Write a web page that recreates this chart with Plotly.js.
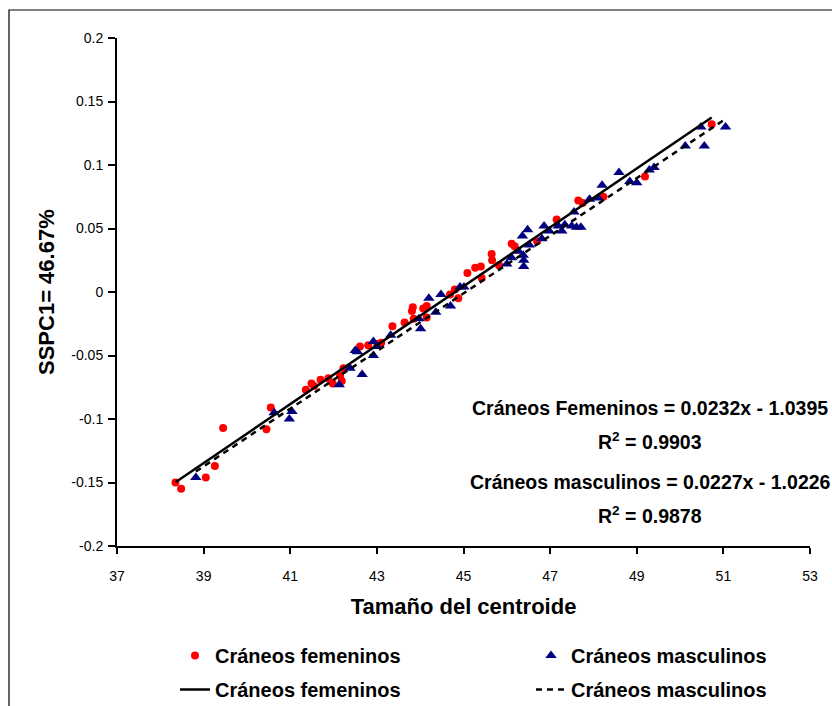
<!DOCTYPE html>
<html>
<head>
<meta charset="utf-8">
<script src="https://cdn.plot.ly/plotly-3.0.1.min.js"></script>
<style>html,body{margin:0;padding:0;background:#fff;}#chart{width:832px;height:706px;}</style>
</head>
<body>
<div id="chart"></div>
<script>
// Data
const femX = [38.35,38.48,39.05,39.26,39.45,40.45,40.55,41.36,41.49,41.55,41.70,41.88,41.98,42.15,42.19,42.23,42.61,42.80,43.01,43.10,43.36,43.64,43.81,43.83,43.85,44.07,44.15,44.15,44.69,44.80,44.88,45.09,45.27,45.40,45.42,45.65,45.66,45.82,46.11,46.18,46.70,47.15,47.65,47.75,48.23,49.19,50.73];
const femY = [-0.150,-0.155,-0.146,-0.137,-0.107,-0.108,-0.091,-0.077,-0.072,-0.074,-0.069,-0.068,-0.072,-0.066,-0.070,-0.060,-0.043,-0.042,-0.041,-0.040,-0.027,-0.024,-0.015,-0.012,-0.021,-0.013,-0.011,-0.020,-0.002,0.002,-0.005,0.015,0.019,0.020,0.011,0.030,0.025,0.021,0.038,0.036,0.040,0.057,0.072,0.070,0.075,0.091,0.132];
const mascX = [38.82,40.63,40.98,41.04,42.13,42.38,42.50,42.55,42.66,42.92,42.92,43.00,43.32,43.97,44.01,44.20,44.36,44.48,44.70,44.92,45.01,46.00,46.11,46.27,46.38,46.39,46.39,46.36,46.48,46.52,46.81,46.86,46.98,47.19,47.27,47.34,47.50,47.61,47.71,47.55,47.91,48.11,48.20,48.59,48.84,49.00,49.29,49.40,50.12,50.56,50.48,51.05];
const mascY = [-0.146,-0.095,-0.100,-0.094,-0.073,-0.060,-0.046,-0.047,-0.065,-0.039,-0.050,-0.043,-0.034,-0.021,-0.029,-0.005,-0.016,-0.002,-0.011,0.004,0.004,0.022,0.027,0.032,0.029,0.025,0.020,0.044,0.049,0.037,0.042,0.052,0.048,0.052,0.048,0.053,0.052,0.051,0.051,0.063,0.073,0.074,0.084,0.094,0.087,0.086,0.096,0.098,0.115,0.115,0.130,0.130];

// Regression coefficients shown on the chart
const femSlope = 0.0232, femIntercept = -1.0395, femR2 = '0.9903';
const mascSlope = 0.0227, mascIntercept = -1.0226, mascR2 = '0.9878';

const xTicks = [37,39,41,43,45,47,49,51,53];
const xTickText = ['37','39','41','43','45','47','49','51','53'];
const yTicks = [-0.2,-0.15,-0.1,-0.05,0,0.05,0.1,0.15,0.2];
const yTickText = ['-0.2','-0.15','-0.1','-0.05','0','0.05','0.1','0.15','0.2'];

const xTitle = 'Tamaño del centroide';
const yTitle = 'SSPC1= 46.67%';
const nameFem = 'Cráneos femeninos';
const nameMasc = 'Cráneos masculinos';

const fxr = [Math.min(...femX), Math.max(...femX)];
const mxr = [Math.min(...mascX), Math.max(...mascX)];

const FONT = 'Liberation Sans, Arial, sans-serif';

const traces = [
  {x: femX, y: femY, type: 'scatter', mode: 'markers', name: nameFem, legend: 'legend', legendgroup: 'g1',
   marker: {color: '#FF0000', size: 8, symbol: 'circle'}},
  {x: mascX, y: mascY, type: 'scatter', mode: 'markers', name: nameMasc, legend: 'legend2', legendgroup: 'g2',
   marker: {color: '#000080', size: 10, symbol: 'triangle-up'}},
  {x: fxr, y: fxr.map(v => femSlope*v + femIntercept), type: 'scatter', mode: 'lines', name: nameFem, legend: 'legend', legendgroup: 'g3',
   line: {color: '#000000', width: 2.5}},
  {x: mxr, y: mxr.map(v => mascSlope*v + mascIntercept), type: 'scatter', mode: 'lines', name: nameMasc, legend: 'legend2', legendgroup: 'g4',
   line: {color: '#000000', width: 2.5, dash: '6px,5px'}}
];

// plot area: x 117..810, y 38..546
const L = 117, R = 810, T = 38, B = 546, W = 832, H = 706;
const px = v => (v - L)/(R - L);
const py = v => (B - v)/(B - T);
const cx = v => v / W;
const cy = v => (H - v) / H;

const annFont = {family: FONT, size: 19.5, color: '#000', weight: 'bold'};
const titleFont = {family: FONT, size: 22, color: '#000', weight: 'bold'};
const legFont = {family: FONT, size: 20, color: '#000', weight: 'bold'};
const legBase = {orientation: 'v', xref: 'container', yref: 'container', xanchor: 'left', yanchor: 'top',
  font: legFont, bgcolor: 'rgba(0,0,0,0)', borderwidth: 0, tracegroupgap: 5, traceorder: 'grouped'};

const layout = {
  width: W, height: H,
  margin: {l: L, r: W - R, t: T, b: H - B, pad: 0, autoexpand: false},
  paper_bgcolor: '#fff', plot_bgcolor: '#fff',
  font: {family: FONT, color: '#000'},
  showlegend: true,
  xaxis: {
    range: [37, 53], tickvals: xTicks, ticktext: xTickText, automargin: true,
    showgrid: false, zeroline: false, showline: true, linecolor: '#000', linewidth: 2,
    ticks: 'outside', ticklen: 6, tickwidth: 2, tickcolor: '#000', ticklabelstandoff: 10,
    tickfont: {family: FONT, size: 14, color: '#000'},
    title: {text: xTitle, font: titleFont, standoff: 16}
  },
  yaxis: {
    range: [-0.2, 0.2], tickvals: yTicks, ticktext: yTickText, automargin: false,
    showgrid: false, zeroline: false, showline: true, linecolor: '#000', linewidth: 2,
    ticks: 'outside', ticklen: 7, tickwidth: 2, tickcolor: '#000', ticklabelstandoff: 2,
    tickfont: {family: FONT, size: 14, color: '#000'}
  },
  legend: Object.assign({}, legBase, {x: cx(175), y: cy(636)}),
  legend2: Object.assign({}, legBase, {x: cx(531), y: cy(636)}),
  annotations: [
    {xref: 'paper', yref: 'paper', x: px(46), y: py(292), xanchor: 'center', yanchor: 'middle', showarrow: false,
     textangle: -90, text: yTitle, font: titleFont},
    {xref: 'paper', yref: 'paper', x: px(650), y: py(408), xanchor: 'center', yanchor: 'middle', showarrow: false,
     text: 'Cráneos Femeninos = ' + femSlope + 'x - ' + Math.abs(femIntercept).toFixed(4), font: annFont},
    {xref: 'paper', yref: 'paper', x: px(650), y: py(441), xanchor: 'center', yanchor: 'middle', showarrow: false,
     text: 'R<sup>2</sup> = ' + femR2, font: annFont},
    {xref: 'paper', yref: 'paper', x: px(650), y: py(482), xanchor: 'center', yanchor: 'middle', showarrow: false,
     text: 'Cráneos masculinos = ' + mascSlope + 'x - ' + Math.abs(mascIntercept).toFixed(4), font: annFont},
    {xref: 'paper', yref: 'paper', x: px(650), y: py(515), xanchor: 'center', yanchor: 'middle', showarrow: false,
     text: 'R<sup>2</sup> = ' + mascR2, font: annFont}
  ],
  shapes: [
    {type: 'rect', xref: 'paper', yref: 'paper', x0: px(9), x1: px(840), y0: py(720), y1: py(10),
     line: {color: '#000', width: 1.2}, fillcolor: 'rgba(0,0,0,0)', layer: 'below'}
  ]
};

Plotly.newPlot('chart', traces, layout, {displayModeBar: false, staticPlot: true});
</script>
</body>
</html>
